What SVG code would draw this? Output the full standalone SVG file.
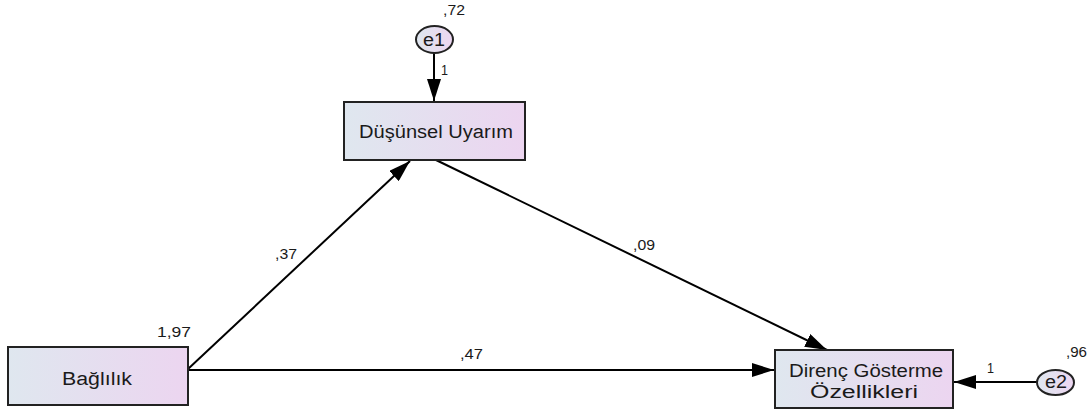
<svg xmlns="http://www.w3.org/2000/svg" width="1091" height="414" viewBox="0 0 1091 414">
<defs>
<linearGradient id="g" x1="0" y1="0" x2="1" y2="0">
<stop offset="0" stop-color="#dfe7ef"/>
<stop offset="1" stop-color="#ecd5f0"/>
</linearGradient>
<marker id="ah" viewBox="0 0 22 14" refX="22" refY="7" markerWidth="22" markerHeight="14" markerUnits="userSpaceOnUse" orient="auto">
<path d="M0,0 L22,7 L0,14 z" fill="#000"/>
</marker>
<style>
.box{fill:url(#g);stroke:#222;stroke-width:2}
.ell{fill:url(#g);stroke:#222;stroke-width:2}
.lbl{font-family:"Liberation Sans",Arial,sans-serif;font-size:18px;fill:#1a1a1a}
.num{font-family:"Liberation Sans",Arial,sans-serif;font-size:14px;fill:#1a1a1a}
.c{fill:none;stroke:#000;stroke-width:2;marker-end:url(#ah)}
</style>
</defs>
<rect width="1091" height="414" fill="#fff"/>
<g id="connectors">
<line class="c" x1="434" y1="53" x2="434" y2="101"/>
<line class="c" x1="188" y1="369" x2="410" y2="161"/>
<line class="c" x1="436" y1="160" x2="827" y2="350"/>
<line class="c" x1="188" y1="370" x2="774" y2="370"/>
<line class="c" x1="1037" y1="382" x2="954" y2="382"/>
<text class="num" x="441" y="75" textLength="7" lengthAdjust="spacingAndGlyphs">1</text>
<text class="num" x="275" y="259" textLength="22" lengthAdjust="spacingAndGlyphs">,37</text>
<text class="num" x="633" y="250" textLength="22" lengthAdjust="spacingAndGlyphs">,09</text>
<text class="num" x="460" y="359" textLength="23" lengthAdjust="spacingAndGlyphs">,47</text>
<text class="num" x="987" y="373" textLength="7" lengthAdjust="spacingAndGlyphs">1</text>
</g>
<g id="e1">
<ellipse class="ell" cx="434.5" cy="39.5" rx="18.5" ry="13.5"/>
<text class="lbl" x="423" y="46" textLength="22" lengthAdjust="spacingAndGlyphs">e1</text>
<text class="num" x="443" y="15" textLength="22" lengthAdjust="spacingAndGlyphs">,72</text>
</g>
<g id="dusunsel">
<rect class="box" x="344" y="102" width="181" height="58"/>
<text class="lbl" x="359" y="138" textLength="154" lengthAdjust="spacingAndGlyphs">Düşünsel Uyarım</text>
</g>
<g id="baglilik">
<rect class="box" x="8" y="347" width="180" height="58"/>
<text class="lbl" x="62" y="385" textLength="70" lengthAdjust="spacingAndGlyphs">Bağlılık</text>
<text class="num" x="157" y="337" textLength="34" lengthAdjust="spacingAndGlyphs">1,97</text>
</g>
<g id="direnc">
<rect class="box" x="775" y="350" width="178" height="58"/>
<text class="lbl" x="789" y="377" textLength="154" lengthAdjust="spacingAndGlyphs">Direnç Gösterme</text>
<text class="lbl" x="810" y="398" textLength="108" lengthAdjust="spacingAndGlyphs">Özellikleri</text>
</g>
<g id="e2">
<ellipse class="ell" cx="1055.5" cy="382.5" rx="18.5" ry="12.5"/>
<text class="lbl" x="1045" y="388" textLength="22" lengthAdjust="spacingAndGlyphs">e2</text>
<text class="num" x="1066" y="357" textLength="21" lengthAdjust="spacingAndGlyphs">,96</text>
</g>
</svg>
